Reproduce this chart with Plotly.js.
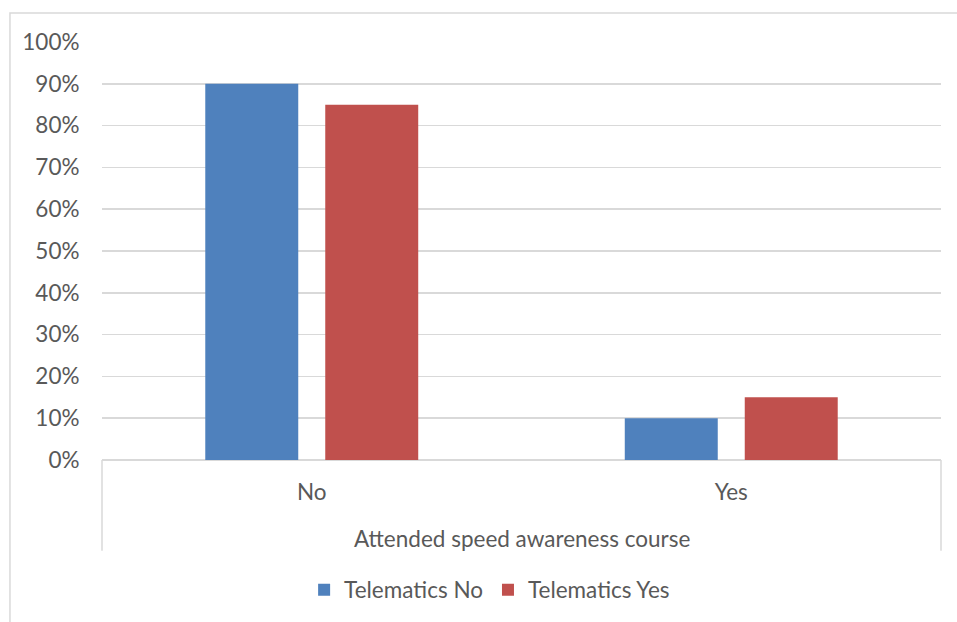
<!DOCTYPE html>
<html>
<head>
<meta charset="utf-8">
<script src="https://cdn.plot.ly/plotly-3.0.1.min.js"></script>
<style>html,body{margin:0;padding:0;background:#fff;}#chart{width:957px;height:622px;}</style>
</head>
<body>
<div id="chart"></div>
<script>
var categories = ["No", "Yes"];
var telematicsNo = [0.90, 0.10];
var telematicsYes = [0.85, 0.15];
var seriesNames = ["Telematics No", "Telematics Yes"];
var axisTitle = "Attended speed awareness course";

var FONT = "Lato, 'Open Sans', sans-serif";
var FS = 22.5;
var TXT = "#595959";
var GRID = "#D9D9D9";

var traces = [
  {type: "bar", x: categories, y: telematicsNo, name: seriesNames[0],
   marker: {color: "#4F81BD"}, hoverinfo: "none"},
  {type: "bar", x: categories, y: telematicsYes, name: seriesNames[1],
   marker: {color: "#C0504D"}, hoverinfo: "none"}
];

var layout = {
  width: 957, height: 622,
  margin: {l: 102, r: 16, t: 42, b: 161, pad: 0},
  paper_bgcolor: "#fff", plot_bgcolor: "#fff",
  barmode: "group", bargap: 0.428, bargroupgap: 0.225,
  font: {family: FONT, size: FS, color: TXT},
  showlegend: true,
  legend: {orientation: "h", x: 0.462, xanchor: "center", y: -0.308, yanchor: "middle",
           font: {family: FONT, size: FS, color: TXT}, itemwidth: 30, traceorder: "normal"},
  xaxis: {type: "category", showgrid: false, zeroline: false, showline: false,
          ticks: "outside", ticklen: 12, tickcolor: "rgba(0,0,0,0)",
          tickfont: {family: FONT, size: FS, color: TXT}, fixedrange: true},
  yaxis: {range: [0, 1], dtick: 0.1, tick0: 0, tickformat: ".0%", showgrid: true,
          gridcolor: GRID, gridwidth: 1.5, zeroline: true, zerolinecolor: GRID, zerolinewidth: 1.5,
          showline: false, ticks: "outside", ticklen: 17, tickcolor: "rgba(0,0,0,0)",
          tickfont: {family: FONT, size: FS, color: TXT}, fixedrange: true},
  annotations: [
    {text: axisTitle, xref: "paper", yref: "paper", x: 0.5, y: -0.1885,
     xanchor: "center", yanchor: "middle", showarrow: false,
     font: {family: FONT, size: FS, color: TXT}}
  ],
  shapes: [
    {type: "line", xref: "paper", yref: "paper", x0: 0, x1: 0, y0: 0, y1: -0.217,
     line: {color: GRID, width: 1.5}},
    {type: "line", xref: "paper", yref: "paper", x0: 1, x1: 1, y0: 0, y1: -0.217,
     line: {color: GRID, width: 1.5}},
    {type: "path", xref: "paper", yref: "paper",
     path: "M -0.1097 -0.40 L -0.1097 1.0692 L 1.03 1.0692",
     line: {color: GRID, width: 1.5}}
  ]
};

Plotly.newPlot("chart", traces, layout, {displayModeBar: false, staticPlot: true});
</script>
</body>
</html>
